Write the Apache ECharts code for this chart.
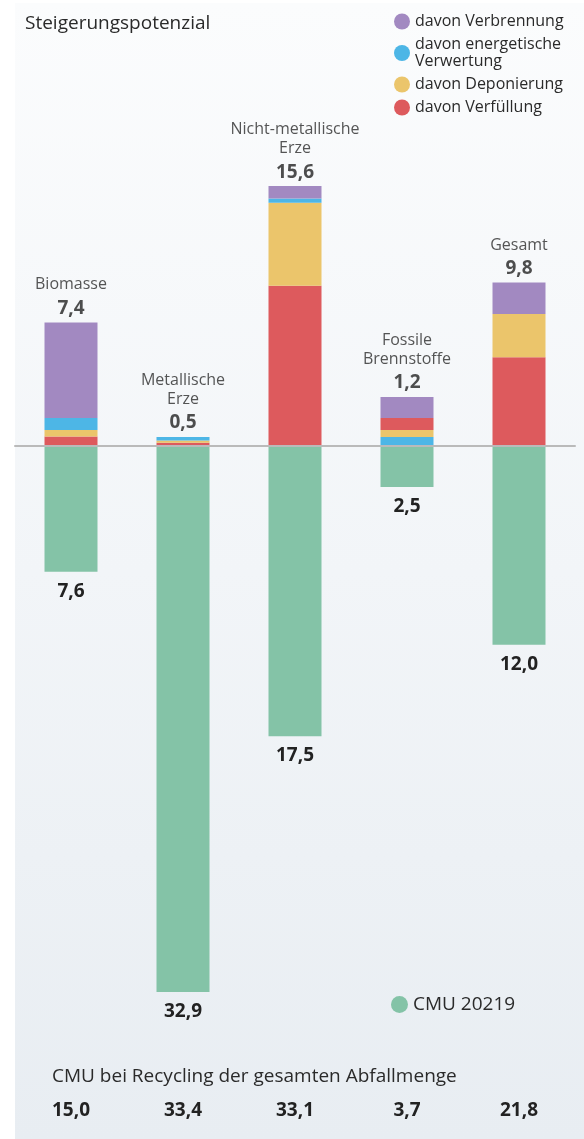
<!DOCTYPE html>
<html>
<head>
<meta charset="utf-8">
<script src="https://cdn.jsdelivr.net/npm/echarts@6/dist/echarts.min.js"></script>
<style>
  html, body { margin: 0; padding: 0; background: #fff; }
  #chart { width: 584px; height: 1139px; }
</style>
</head>
<body>
<div id="chart"></div>
<script>
  // Kategorien und Werte
  const categories = ['Biomasse', 'Metallische\nErze', 'Nicht-metallische\nErze', 'Fossile\nBrennstoffe', 'Gesamt']
  const verfuellung = [0.53, 0.15, 9.6, 0.72, 5.3]
  const deponierung = [0.4, 0.15, 5.0, 0.42, 2.6]
  const energetisch = [0.72, 0.2, 0.25, 0.51, 0]
  const verbrennung = [5.75, 0, 0.75, 1.26, 1.9]
  const cmu2019 = [7.6, 32.9, 17.5, 2.5, 12.0]
  const potenzialLabels = ['7,4', '0,5', '15,6', '1,2', '9,8']
  const recyclingLabels = ['15,0', '33,4', '33,1', '3,7', '21,8']
  // bei fossilen Brennstoffen liegt blau/gelb unter rot
  const fossilIdx = 3

  const font = 'Open Sans'
  const colors = {
    verbrennung: '#a289c1',
    energetisch: '#4db6e6',
    deponierung: '#ebc56b',
    verfuellung: '#dd5a5d',
    cmu: '#84c3a7'
  }

  const onlyFossil = arr => arr.map((v, i) => i === fossilIdx ? v : null)
  const withoutFossil = arr => arr.map((v, i) => i === fossilIdx ? null : v)
  const totals = categories.map((c, i) => verfuellung[i] + deponierung[i] + energetisch[i] + verbrennung[i])

  function barSeries(name, data, color) {
    return {
      name: name,
      type: 'bar',
      stack: 'total',
      barWidth: 53,
      data: data,
      itemStyle: { color: color },
      emphasis: { disabled: true }
    }
  }

  let myChart = echarts.init(document.getElementById('chart'))
  let option = {
    animation: false,
    textStyle: { fontFamily: font },
    graphic: [{
      type: 'rect',
      z: -10,
      shape: { x: 15, y: 3, width: 569, height: 1136 },
      style: {
        fill: {
          type: 'linear', x: 0, y: 0, x2: 0, y2: 1,
          colorStops: [
            { offset: 0, color: '#fbfcfd' },
            { offset: 0.5, color: '#f2f5f8' },
            { offset: 1, color: '#e8edf2' }
          ]
        }
      }
    }],
    title: [
      {
        text: 'Steigerungspotenzial',
        left: 20, top: 9,
        textStyle: { fontFamily: font, fontSize: 19, fontWeight: 'normal', color: '#2a2a2a' }
      },
      {
        text: 'CMU bei Recycling der gesamten Abfallmenge',
        left: 47, top: 1062,
        textStyle: { fontFamily: font, fontSize: 19, fontWeight: 'normal', color: '#2a2a2a' }
      }
    ],
    legend: [
      {
        data: ['davon Verbrennung', 'davon energetische\nVerwertung', 'davon Deponierung', 'davon Verfüllung'],
        orient: 'vertical',
        left: 389, top: 8,
        icon: 'circle',
        itemWidth: 16, itemHeight: 16,
        itemGap: 6,
        selectedMode: false,
        textStyle: { fontFamily: font, fontSize: 16, lineHeight: 17, color: '#2a2a2a' }
      },
      {
        data: ['CMU 20219'],
        left: 386, top: 990,
        icon: 'circle',
        itemWidth: 17, itemHeight: 17,
        selectedMode: false,
        textStyle: { fontFamily: font, fontSize: 19, color: '#2a2a2a' }
      }
    ],
    grid: { left: 15, right: 9, top: 113, bottom: 112 },
    xAxis: [
      {
        type: 'category',
        data: categories,
        axisLine: { show: true, onZero: true, lineStyle: { color: '#bababa', width: 2 } },
        axisTick: { show: false },
        axisLabel: { show: false },
        z: 5
      },
      {
        type: 'category',
        data: recyclingLabels,
        position: 'bottom',
        offset: 64,
        axisLine: { show: false },
        axisTick: { show: false },
        axisLabel: {
          margin: 10,
          fontFamily: font, fontSize: 19, fontWeight: 'bold', color: '#222'
        }
      }
    ],
    yAxis: { type: 'value', min: -35, max: 20, show: false },
    series: [
      barSeries('davon energetische\nVerwertung', onlyFossil(energetisch), colors.energetisch),
      barSeries('davon Deponierung', onlyFossil(deponierung), colors.deponierung),
      barSeries('davon Verfüllung', verfuellung, colors.verfuellung),
      barSeries('davon Deponierung', withoutFossil(deponierung), colors.deponierung),
      barSeries('davon energetische\nVerwertung', withoutFossil(energetisch), colors.energetisch),
      barSeries('davon Verbrennung', verbrennung, colors.verbrennung),
      Object.assign(barSeries('CMU 20219', cmu2019.map(v => -v), colors.cmu), {
        label: {
          show: true,
          position: 'bottom',
          distance: 10,
          fontFamily: font, fontSize: 19, fontWeight: 'bold', color: '#222',
          formatter: p => cmu2019[p.dataIndex].toFixed(1).replace('.', ',')
        }
      }),
      {
        // Beschriftung über den Säulen
        type: 'scatter',
        symbolSize: 0,
        data: totals,
        silent: true,
        label: {
          show: true,
          position: 'top',
          distance: 0,
          formatter: p => {
            let lines = categories[p.dataIndex].split('\n').map(s => '{n|' + s + '}')
            lines.push('{v|' + potenzialLabels[p.dataIndex] + '}')
            return lines.join('\n')
          },
          rich: {
            n: { fontFamily: font, fontSize: 16, lineHeight: 19, color: '#2a2a2a' },
            v: { fontFamily: font, fontSize: 19, fontWeight: 'bold', lineHeight: 28, color: '#222' }
          }
        }
      }
    ]
  }
  myChart.setOption(option)
</script>
</body>
</html>
